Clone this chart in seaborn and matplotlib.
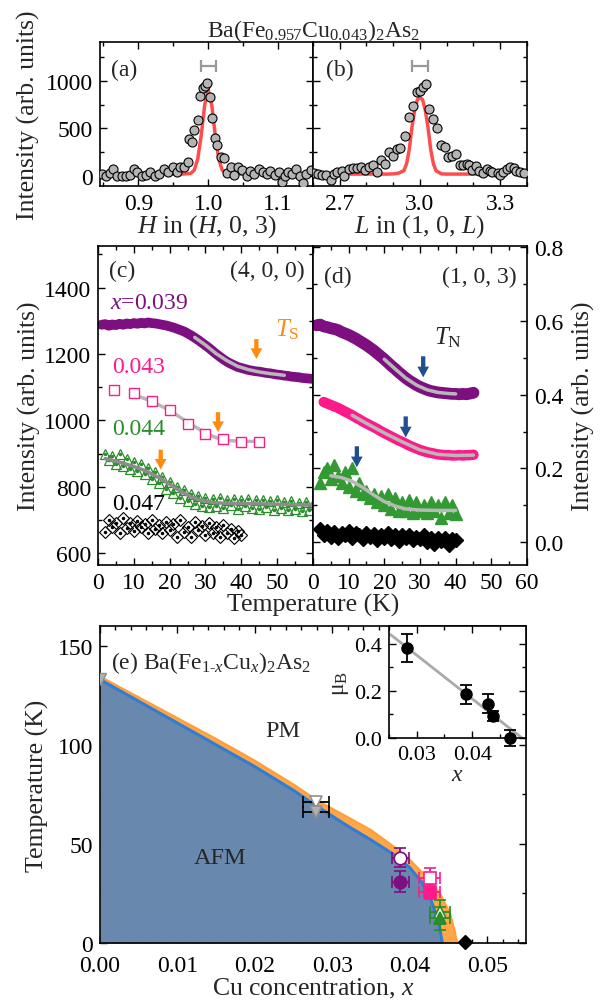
import matplotlib
matplotlib.use("Agg")
import matplotlib.pyplot as plt
import seaborn as sns
import numpy as np
from matplotlib.ticker import MultipleLocator

# ---------------- data: panel (a), H scan of (H, 0, 3) ----------------
H_a = [0.848, 0.853, 0.859, 0.864, 0.870, 0.876, 0.882, 0.888, 0.893, 0.898,
       0.905, 0.911, 0.917, 0.924, 0.930, 0.936, 0.943, 0.949, 0.955, 0.960,
       0.965, 0.9705, 0.973, 0.977, 0.980, 0.985, 0.9886, 0.992, 0.995, 0.998,
       1.003, 1.006, 1.010, 1.013, 1.018, 1.022, 1.027, 1.033, 1.037, 1.042,
       1.049, 1.055, 1.060, 1.066, 1.072, 1.078, 1.084, 1.089, 1.095, 1.101,
       1.105, 1.110, 1.114, 1.120, 1.126, 1.131, 1.136, 1.140, 1.147]
I_a = [20, 0, 30, 75, 5, 0, 5, 10, 70, 40,
       5, 10, 40, 5, 20, 70, 40, 90, 46, 98,
       91, 150, 390, 360, 487, 593, 845, 923, 950, 975,
       828, 611, 400, 326, 203, 190, 28, 95, 10, 95,
       60, 0, 50, 25, 70, 40, 25, 50, 10, 40,
       -60, 0, 40, 25, 70, 0, -70, 25, 65]
# resolution-limited fit
Hfit_a = [0.935, 0.955, 0.965, 0.970, 0.975, 0.980, 0.985, 0.990, 0.995, 1.000,
          1.005, 1.010, 1.015, 1.020, 1.025, 1.030, 1.035, 1.045, 1.060]
Ifit_a = [20, 20, 21, 24, 28, 61, 180, 430, 750, 905,
          750, 430, 180, 61, 28, 24, 21, 20, 20]

# ---------------- panel (b), L scan of (1, 0, L) ----------------
L_b = [2.604, 2.620, 2.635, 2.650, 2.666, 2.680, 2.690, 2.707, 2.716, 2.735,
       2.750, 2.765, 2.780, 2.795, 2.810, 2.823, 2.838, 2.853, 2.869, 2.884,
       2.900, 2.915, 2.925, 2.944, 2.960, 2.975, 2.988, 3.000, 3.010, 3.0225,
       3.035, 3.050, 3.0625, 3.078, 3.093, 3.105, 3.120, 3.135, 3.148, 3.160,
       3.175, 3.185, 3.195, 3.210, 3.220, 3.235, 3.250, 3.260, 3.270, 3.290,
       3.300, 3.310, 3.325, 3.337, 3.350, 3.360, 3.375, 3.390]
I_b = [30, 20, 10, 15, -40, 20, 40, 50, 0, 70,
       80, 80, 90, 60, 91, 116, 45, 172, 126, 256,
       207, 284, 291, 418, 617, 740, 880, 898, 933, 968,
       700, 600, 500, 326, 300, 200, 210, 230, 120, 120,
       125, 120, 60, 100, 50, 35, 70, 50, 40, 35,
       10, 40, 70, 90, 80, 50, 40, 35]
Lfit_b = [2.72, 2.88, 2.90, 2.92, 2.94, 2.95, 2.96, 2.97, 2.98, 2.99, 3.00,
          3.01, 3.02, 3.03, 3.04, 3.05, 3.06, 3.08, 3.10, 3.30]
Ifit_b = [20, 20, 22, 30, 56, 130, 280, 511, 690, 800, 830,
          800, 690, 511, 280, 130, 56, 22, 20, 20]

# ---------------- panel (c), (4, 0, 0) vs temperature ----------------
T_c039 = list(range(1, 61))
I_c039 = [1288, 1290, 1285, 1289, 1287, 1291, 1288, 1292, 1290, 1293,
          1291, 1294, 1292, 1295, 1293, 1292, 1290, 1288, 1286, 1283,
          1280, 1276, 1272, 1268, 1262, 1256, 1249, 1242, 1234, 1226,
          1218, 1209, 1200, 1192, 1184, 1177, 1171, 1166, 1161, 1158,
          1155, 1152, 1150, 1148, 1147, 1145, 1143, 1142, 1140, 1138,
          1137, 1135, 1134, 1132, 1131, 1130, 1128, 1127, 1126, 1125]
Tfit_c039 = [27, 30, 33, 36, 39, 42, 45, 48, 52]
Ifit_c039 = [1250, 1227, 1201, 1180, 1163, 1153, 1146, 1141, 1136]

T_c043 = [4.5, 10, 15, 20, 25, 30, 35, 40, 45]
I_c043 = [1092, 1083, 1059, 1032, 990, 960, 945, 936, 936]
Tfit_c043 = [10, 15, 20, 25, 30, 33, 36, 40, 45]
Ifit_c043 = [1078, 1058, 1030, 995, 962, 948, 940, 937, 937]

T_c044 = list(range(2, 61))
I_c044 = [900, 880, 892, 870, 898, 862, 884, 855, 875, 848,
          868, 838, 858, 825, 845, 812, 830, 795, 815, 782,
          800, 768, 790, 758, 780, 748, 772, 742, 768, 740,
          765, 742, 768, 738, 762, 745, 765, 735, 760, 742,
          765, 738, 760, 735, 762, 740, 758, 732, 760, 738,
          755, 730, 758, 735, 752, 728, 755, 732, 750]
Tfit_c044 = [2, 5, 8, 11, 14, 17, 20, 23, 26, 29, 32, 35, 40, 50, 60]
Ifit_c044 = [885, 878, 868, 858, 845, 828, 808, 787, 770, 759, 753, 751, 750, 748, 745]

T_c047 = list(range(2, 41))
I_c047 = [665, 700, 680, 690, 660, 705, 675, 690, 668, 698,
          680, 688, 662, 700, 672, 685, 660, 695, 670, 688,
          650, 700, 665, 680, 648, 695, 670, 682, 655, 690,
          662, 678, 650, 685, 660, 672, 645, 668, 655]

# ---------------- panel (d), (1, 0, 3) vs temperature ----------------
T_d039 = list(range(1, 46))
I_d039 = [0.588, 0.590, 0.585, 0.583, 0.580, 0.578, 0.575, 0.570, 0.566, 0.562,
          0.557, 0.552, 0.546, 0.540, 0.534, 0.527, 0.520, 0.512, 0.504, 0.496,
          0.487, 0.478, 0.470, 0.461, 0.453, 0.445, 0.438, 0.432, 0.426, 0.421,
          0.417, 0.413, 0.410, 0.408, 0.406, 0.405, 0.404, 0.403, 0.402, 0.402,
          0.401, 0.402, 0.401, 0.403, 0.405]
Tfit_d039 = [20, 23, 26, 29, 32, 35, 38, 40]
Ifit_d039 = [0.496, 0.470, 0.445, 0.426, 0.413, 0.406, 0.403, 0.402]

T_d043 = list(range(3, 46))
I_d043 = [0.380, 0.376, 0.372, 0.368, 0.364, 0.359, 0.354, 0.349, 0.344, 0.338,
          0.333, 0.327, 0.322, 0.317, 0.312, 0.307, 0.301, 0.296, 0.291, 0.286,
          0.281, 0.276, 0.272, 0.267, 0.262, 0.258, 0.254, 0.250, 0.247, 0.244,
          0.242, 0.240, 0.238, 0.237, 0.236, 0.236, 0.235, 0.235, 0.236, 0.235,
          0.236, 0.236, 0.237]
Tfit_d043 = [11, 15, 20, 25, 30, 35, 40, 45]
Ifit_d043 = [0.344, 0.322, 0.296, 0.272, 0.250, 0.238, 0.235, 0.236]

T_d044 = list(range(2, 41))
I_d044 = [0.16, 0.19, 0.20, 0.17, 0.21, 0.18, 0.16, 0.19, 0.15, 0.20,
          0.14, 0.16, 0.13, 0.14, 0.12, 0.13, 0.11, 0.125, 0.10, 0.13,
          0.09, 0.12, 0.085, 0.11, 0.085, 0.115, 0.08, 0.11, 0.085, 0.10,
          0.08, 0.11, 0.085, 0.10, 0.065, 0.11, 0.08, 0.10, 0.075]
Tfit_d044 = [5, 8, 11, 14, 17, 20, 23, 26, 30, 35, 40]
Ifit_d044 = [0.180, 0.175, 0.165, 0.148, 0.128, 0.110, 0.098, 0.090, 0.087, 0.086, 0.086]

T_d047 = list(range(2, 41))
I_d047 = [0.035, 0.020, 0.030, 0.015, 0.028, 0.010, 0.025, 0.018, 0.030, 0.012,
          0.025, 0.020, 0.008, 0.025, 0.015, 0.022, 0.005, 0.020, 0.012, 0.025,
          0.008, 0.020, 0.003, 0.018, 0.010, 0.020, 0.005, 0.015, 0.008, 0.018,
          0.000, 0.012, -0.005, 0.012, 0.002, 0.010, -0.008, 0.008, 0.005]

# ---------------- panel (e), phase diagram ----------------
x_TN = [0.0, 0.005, 0.010, 0.015, 0.020, 0.025, 0.028, 0.032, 0.035,
        0.0378, 0.040, 0.0415, 0.0428, 0.0437, 0.0442]
T_TN = [133, 122, 111, 100, 89, 77, 69, 59, 52,
        45, 38, 31, 21, 11, 0]
x_TS = [0.0, 0.005, 0.010, 0.015, 0.020, 0.025, 0.028, 0.032, 0.035,
        0.0378, 0.040, 0.042, 0.0439, 0.0452, 0.0458, 0.0461]
T_TS = [134.5, 124, 113.5, 103, 92, 80, 72, 63.5, 57,
        49, 42, 34, 25, 15, 6, 0]

# open symbols = T_S, filled symbols = T_N
x_pts = [0.0279, 0.0388, 0.0426, 0.0439]
TS_pts = [71, 43, 33, 15.5]
TN_pts = [66, 31, 26, 12.4]
xerr_pts = [0.0017, 0.0011, 0.00135, 0.0013]
TSerr = [0, 4.8, 4.8, 6]
TNerr = [0, 5.5, 4, 6]

# inset: ordered moment
x_mu = [0.0282, 0.0389, 0.0428, 0.0438, 0.0468]
mu = [0.381, 0.185, 0.146, 0.093, 0.0]
mu_err = [0.058, 0.04, 0.039, 0.02, 0.035]
x_mufit = [0.0253, 0.049]
mu_fit = [0.438, 0.0]

# ---------------- style ----------------
sns.set_theme(style="ticks")
plt.rcParams['font.family'] = ['Liberation Serif', 'DejaVu Serif']
plt.rcParams['mathtext.fontset'] = 'custom'
plt.rcParams['mathtext.rm'] = 'Liberation Serif'
plt.rcParams['mathtext.it'] = 'Liberation Serif:italic'
plt.rcParams['mathtext.bf'] = 'Liberation Serif:bold'
plt.rcParams['font.size'] = 17
plt.rcParams['axes.labelsize'] = 18.5
plt.rcParams['xtick.labelsize'] = 17
plt.rcParams['ytick.labelsize'] = 17
plt.rcParams['axes.linewidth'] = 1.2
plt.rcParams['xtick.major.pad'] = 5
plt.rcParams['ytick.major.pad'] = 5

PURPLE = '#7d0f80'
PINK = '#ff1a8c'
GREEN = '#2a8c2a'
ORANGE = '#ff8a10'
NAVY = '#1f4f8f'
FITGRAY = '#b8b8b8'
RED = '#ff4d4d'


def style(ax):
    ax.tick_params(which='both', direction='in', top=True, right=True,
                   width=1.0, colors='black')
    ax.tick_params(which='major', length=5)
    ax.tick_params(which='minor', length=3)
    for s in ax.spines.values():
        s.set_linewidth(1.2)
        s.set_color('black')


def down_arrow(ax, x, y0, y1, color):
    ax.annotate('', xy=(x, y1), xytext=(x, y0),
                arrowprops=dict(arrowstyle='simple,head_width=0.6,head_length=0.55,tail_width=0.22',
                                color=color, lw=0, shrinkA=0, shrinkB=0,
                                mutation_scale=14))


fig = plt.figure(figsize=(6.02, 10.03), dpi=100)

ax_a = fig.add_axes([0.1661, 0.8136, 0.3538, 0.1436])
ax_b = fig.add_axes([0.5199, 0.8136, 0.3555, 0.1436])
ax_c = fig.add_axes([0.1628, 0.4357, 0.3571, 0.3180])
ax_d = fig.add_axes([0.5199, 0.4357, 0.3555, 0.3180])
ax_e = fig.add_axes([0.1661, 0.0588, 0.7076, 0.3161])
ax_in = fig.add_axes([0.6462, 0.2632, 0.2275, 0.1117])

# ---- (a) ----
sns.lineplot(x=Hfit_a, y=Ifit_a, ax=ax_a, color=RED, lw=2.5, sort=False)
ax_a.plot(H_a, I_a, 'o', ms=6.5, mfc='#b4b4b4', mec='black', mew=0.8, zorder=3)
ax_a.errorbar([1.0], [1160], xerr=[0.011], fmt='none', ecolor='#999999',
              capsize=4, elinewidth=1.6, capthick=1.6)
ax_a.set_xlim(0.845, 1.15)
ax_a.set_ylim(-105, 1410)
ax_a.xaxis.set_major_locator(MultipleLocator(0.1))
ax_a.xaxis.set_minor_locator(MultipleLocator(0.05))
ax_a.yaxis.set_major_locator(MultipleLocator(500))
ax_a.yaxis.set_minor_locator(MultipleLocator(250))
ax_a.xaxis.set_major_formatter(plt.FormatStrFormatter('%.1f'))
ax_a.set_xlabel('$H$ in ($H$, 0, 3)', labelpad=-1)
ax_a.set_ylabel('Intensity (arb. units)', labelpad=4)
ax_a.text(0.05, 0.81, '(a)', transform=ax_a.transAxes, va='center', ha='left')
style(ax_a)

# ---- (b) ----
sns.lineplot(x=Lfit_b, y=Ifit_b, ax=ax_b, color=RED, lw=2.5, sort=False)
ax_b.plot(L_b, I_b, 'o', ms=6.5, mfc='#b4b4b4', mec='black', mew=0.8, zorder=3)
ax_b.errorbar([3.0], [1160], xerr=[0.031], fmt='none', ecolor='#999999',
              capsize=4, elinewidth=1.6, capthick=1.6)
ax_b.set_xlim(2.6, 3.4)
ax_b.set_ylim(-105, 1410)
ax_b.xaxis.set_major_locator(MultipleLocator(0.3))
ax_b.xaxis.set_minor_locator(MultipleLocator(0.1))
ax_b.yaxis.set_major_locator(MultipleLocator(500))
ax_b.yaxis.set_minor_locator(MultipleLocator(250))
ax_b.xaxis.set_major_formatter(plt.FormatStrFormatter('%.1f'))
ax_b.tick_params(labelleft=False)
ax_b.set_xlabel('$L$ in (1, 0, $L$)', labelpad=-1)
ax_b.set_ylabel('')
ax_b.text(0.06, 0.81, '(b)', transform=ax_b.transAxes, va='center', ha='left')
style(ax_b)

fig.text(0.52, 0.969, 'Ba(Fe$_{0.957}$Cu$_{0.043}$)$_2$As$_2$', ha='center', va='center',
         fontsize=17)

# ---- (c) ----
sns.lineplot(x=T_c039, y=I_c039, ax=ax_c, color=PURPLE, lw=7, sort=False)
sns.lineplot(x=Tfit_c039, y=Ifit_c039, ax=ax_c, color=FITGRAY, lw=2.5, sort=False)
ax_c.errorbar(T_c043, I_c043, yerr=12, fmt='s', ms=6.5, mfc='white', mec=PINK,
              mew=1.0, ecolor=PINK, elinewidth=1.2, capsize=0, zorder=4)
sns.lineplot(x=Tfit_c043, y=Ifit_c043, ax=ax_c, color=FITGRAY, lw=2.5, sort=False)
ax_c.plot(T_c044, I_c044, '^', ms=7, mfc='none', mec=GREEN, mew=0.9)
ax_c.plot(T_c044, I_c044, '.', ms=3, color=GREEN)
sns.lineplot(x=Tfit_c044, y=Ifit_c044, ax=ax_c, color='#8c8c8c', lw=2.5, sort=False)
ax_c.plot(T_c047, I_c047, 'D', ms=6, mfc='none', mec='black', mew=0.8)
ax_c.plot(T_c047, I_c047, '.', ms=3, color='black')
down_arrow(ax_c, 44.2, 1245, 1185, ORANGE)
down_arrow(ax_c, 33.5, 1025, 965, ORANGE)
down_arrow(ax_c, 17.5, 912, 852, ORANGE)
ax_c.text(3.3, 1356, '$x$=0.039', color=PURPLE, va='center', ha='left')
ax_c.text(3.9, 1161, '0.043', color=PINK, va='center', ha='left')
ax_c.text(3.9, 975, '0.044', color=GREEN, va='center', ha='left')
ax_c.text(3.9, 750, '0.047', color='black', va='center', ha='left')
ax_c.text(52.7, 1275, '$T_{\\mathrm{S}}$', color=ORANGE, va='center', ha='center', fontsize=18)
ax_c.text(0.05, 0.925, '(c)', transform=ax_c.transAxes, va='center', ha='left')
ax_c.text(0.96, 0.925, '(4, 0, 0)', transform=ax_c.transAxes, va='center', ha='right')
ax_c.set_xlim(0, 60)
ax_c.set_ylim(565, 1525)
ax_c.set_xticks([0, 10, 20, 30, 40, 50, 60])
ax_c.set_xticklabels(['0', '10', '20', '30', '40', '50', ''])
ax_c.xaxis.set_minor_locator(MultipleLocator(5))
ax_c.yaxis.set_major_locator(MultipleLocator(200))
ax_c.yaxis.set_minor_locator(MultipleLocator(100))
ax_c.set_xlabel('')
ax_c.set_ylabel('Intensity (arb. units)', labelpad=2)
style(ax_c)

# ---- (d) ----
sns.lineplot(x=T_d039, y=I_d039, ax=ax_d, color=PURPLE, lw=8.5, sort=False)
sns.lineplot(x=Tfit_d039, y=Ifit_d039, ax=ax_d, color=FITGRAY, lw=2.5, sort=False)
sns.lineplot(x=T_d043, y=I_d043, ax=ax_d, color=PINK, lw=7.5, sort=False)
sns.lineplot(x=Tfit_d043, y=Ifit_d043, ax=ax_d, color=FITGRAY, lw=2.5, sort=False)
ax_d.plot(T_d044, I_d044, '^', ms=8, color='#339933', mec='#339933')
sns.lineplot(x=Tfit_d044, y=Ifit_d044, ax=ax_d, color=FITGRAY, lw=2.5, sort=False)
ax_d.plot(T_d047, I_d047, 'D', ms=7, color='black')
down_arrow(ax_d, 30.9, 0.504, 0.447, NAVY)
down_arrow(ax_d, 26.0, 0.341, 0.284, NAVY)
down_arrow(ax_d, 12.3, 0.260, 0.203, NAVY)
ax_d.text(38, 0.556, '$T_{\\mathrm{N}}$', va='center', ha='center', fontsize=18)
ax_d.text(0.05, 0.905, '(d)', transform=ax_d.transAxes, va='center', ha='left')
ax_d.text(0.95, 0.905, '(1, 0, 3)', transform=ax_d.transAxes, va='center', ha='right')
ax_d.set_xlim(0, 60)
ax_d.set_ylim(-0.062, 0.803)
ax_d.xaxis.set_major_locator(MultipleLocator(10))
ax_d.xaxis.set_minor_locator(MultipleLocator(5))
ax_d.yaxis.set_major_locator(MultipleLocator(0.2))
ax_d.yaxis.set_minor_locator(MultipleLocator(0.1))
ax_d.yaxis.set_major_formatter(plt.FormatStrFormatter('%.1f'))
style(ax_d)
ax_d.tick_params(labelleft=False, labelright=True)
ax_d.yaxis.set_label_position('right')
ax_d.set_ylabel('Intensity (arb. units)', labelpad=6)
ax_d.set_xlabel('')

fig.text(0.52, 0.396, 'Temperature (K)', ha='center', va='center', fontsize=18.5)

# ---- (e) ----
ax_e.fill_between(x_TS, 0, T_TS, color='#ffa748', lw=0)
ax_e.fill_between(x_TN, 0, T_TN, color='#6889ad', lw=0)
sns.lineplot(x=x_TS, y=T_TS, ax=ax_e, color='#ff9f3a', lw=1.5, sort=False)
sns.lineplot(x=x_TN, y=T_TN, ax=ax_e, color='#2f7dd4', lw=2.2, sort=False)

ax_e.plot([0.0], [133], 'v', ms=9, mfc='#b0b0b0', mec='#909090', zorder=5)
pt_colors = ['black', PURPLE, PINK, GREEN]
pt_marks = ['v', 'o', 's', '^']
pt_fill = ['#b0b0b0', PURPLE, PINK, GREEN]
pt_edge = ['#909090', PURPLE, PINK, GREEN]
for i in range(len(x_pts)):
    ax_e.errorbar(x_pts[i], TS_pts[i], xerr=xerr_pts[i], yerr=TSerr[i],
                  fmt=pt_marks[i], ms=9, mfc='white', mec=pt_edge[i], mew=1.2,
                  ecolor=pt_colors[i], elinewidth=1.3, capsize=4, capthick=1.3, zorder=5)
    ax_e.errorbar(x_pts[i], TN_pts[i], xerr=xerr_pts[i], yerr=TNerr[i],
                  fmt=pt_marks[i], ms=9, mfc=pt_fill[i], mec=pt_edge[i], mew=1.2,
                  ecolor=pt_colors[i], elinewidth=1.3, capsize=4, capthick=1.3, zorder=5)
ax_e.plot([0.0471], [0.5], 'D', ms=7, color='black', zorder=6, clip_on=False)

ax_e.text(0.027, 0.886, '(e) Ba(Fe$_{1\\text{-}x}$Cu$_x$)$_2$As$_2$', transform=ax_e.transAxes,
          va='center', ha='left')
ax_e.text(0.0236, 107, 'PM', ha='center', va='center', fontsize=17.5)
ax_e.text(0.0155, 43, 'AFM', ha='center', va='center', fontsize=17.5)
ax_e.set_xlim(0, 0.055)
ax_e.set_ylim(0, 160)
ax_e.xaxis.set_major_locator(MultipleLocator(0.01))
ax_e.xaxis.set_minor_locator(MultipleLocator(0.002))
ax_e.xaxis.set_major_formatter(plt.FormatStrFormatter('%.2f'))
ax_e.yaxis.set_major_locator(MultipleLocator(50))
ax_e.yaxis.set_minor_locator(MultipleLocator(25))
ax_e.tick_params(axis='x', pad=8.5)
ax_e.set_xlabel('Cu concentration, $x$', labelpad=0)
ax_e.set_ylabel('Temperature (K)', labelpad=6)
style(ax_e)

# ---- inset ----
sns.lineplot(x=x_mufit, y=mu_fit, ax=ax_in, color='#aaaaaa', lw=2, sort=False)
ax_in.errorbar(x_mu, mu, yerr=mu_err, fmt='o', ms=8, color='black',
               ecolor='black', elinewidth=1.3, capsize=4, capthick=1.3,
               zorder=4, clip_on=False)
ax_in.set_xlim(0.025, 0.0497)
ax_in.set_ylim(0, 0.475)
ax_in.set_xticks([0.03, 0.04])
ax_in.xaxis.set_minor_locator(MultipleLocator(0.005))
ax_in.xaxis.set_major_formatter(plt.FormatStrFormatter('%.2f'))
ax_in.yaxis.set_major_locator(MultipleLocator(0.2))
ax_in.yaxis.set_minor_locator(MultipleLocator(0.1))
ax_in.yaxis.set_major_formatter(plt.FormatStrFormatter('%.1f'))
ax_in.tick_params(labelsize=16)
ax_in.set_xlabel('$x$', labelpad=0, fontsize=17)
ax_in.set_ylabel('μ$_{\\mathrm{B}}$', labelpad=2, fontsize=17)
ax_in.set_facecolor('white')
style(ax_in)

fig.savefig('out.png', dpi=100)
